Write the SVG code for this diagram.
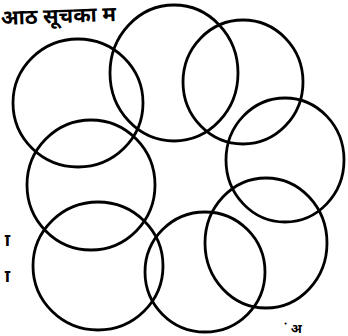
<svg xmlns="http://www.w3.org/2000/svg" width="348" height="336" viewBox="0 0 348 336">
<style>
.c{fill:none;stroke:#000;stroke-width:2.8}
.t{font-family:"Noto Sans","Noto Sans CJK SC",sans-serif;fill:#000;font-weight:bold}
</style>
<rect width="348" height="336" fill="#fff"/>
<text class="t" x="1" y="25" font-size="21" transform="rotate(-2 1 25)">आठ सूचका म</text>
<text class="t" x="0" y="246" font-size="18">&#160;ा</text>
<text class="t" x="0" y="282" font-size="18">&#160;ा</text>
<text class="t" x="284" y="333" font-size="13">&#160;ं अ</text>
<g id="n1"><ellipse class="c" cx="78" cy="103" rx="65" ry="64"/></g>
<g id="n2"><ellipse class="c" cx="174" cy="73" rx="64" ry="68"/></g>
<g id="n3"><ellipse class="c" cx="243" cy="82" rx="60" ry="62"/></g>
<g id="n4"><ellipse class="c" cx="285" cy="160" rx="59" ry="62"/></g>
<g id="n5"><ellipse class="c" cx="266" cy="243" rx="61" ry="65"/></g>
<g id="n6"><ellipse class="c" cx="205" cy="272" rx="60" ry="60"/></g>
<g id="n7"><ellipse class="c" cx="98" cy="266" rx="65" ry="64"/></g>
<g id="n8"><ellipse class="c" cx="91" cy="185" rx="64" ry="65"/></g>
</svg>
